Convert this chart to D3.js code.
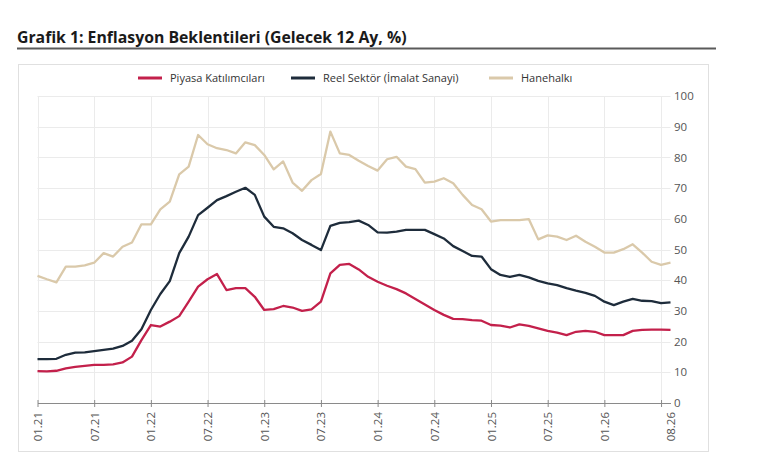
<!DOCTYPE html>
<html>
<head>
<meta charset="utf-8">
<script src="https://cdn.jsdelivr.net/npm/d3@7"></script>
<style>
  body { margin: 0; background: #fff; }
  svg { font-family: "Open Sans", "Noto Sans", sans-serif; }
</style>
</head>
<body>
<svg id="chart" width="770" height="473"></svg>
<script>
const months = [
  "01.21","02.21","03.21","04.21","05.21","06.21","07.21","08.21","09.21","10.21","11.21","12.21",
  "01.22","02.22","03.22","04.22","05.22","06.22","07.22","08.22","09.22","10.22","11.22","12.22",
  "01.23","02.23","03.23","04.23","05.23","06.23","07.23","08.23","09.23","10.23","11.23","12.23",
  "01.24","02.24","03.24","04.24","05.24","06.24","07.24","08.24","09.24","10.24","11.24","12.24",
  "01.25","02.25","03.25","04.25","05.25","06.25","07.25","08.25","09.25","10.25","11.25","12.25",
  "01.26","02.26","03.26","04.26","05.26","06.26","07.26","08.26"
];

const piyasa = [
  10.4, 10.3, 10.5, 11.3, 11.8, 12.1, 12.4, 12.4, 12.6, 13.2,
  15.1, 20.5, 25.4, 24.9, 26.5, 28.3, 33.0, 37.9, 40.3, 42.0,
  36.8, 37.4, 37.4, 34.6, 30.3, 30.6, 31.6, 31.1, 30.0, 30.5,
  33.0, 42.2, 45.0, 45.3, 43.5, 41.1, 39.5, 38.2, 37.1, 35.7,
  33.9, 32.1, 30.3, 28.7, 27.4, 27.3, 27.0, 26.8, 25.4, 25.2,
  24.6, 25.6, 25.1, 24.3, 23.5, 22.9, 22.1, 23.2, 23.5, 23.2,
  22.1, 22.1, 22.1, 23.5, 23.8, 23.9, 23.9, 23.8
];

const reelSektor = [
  14.3, 14.3, 14.4, 15.7, 16.4, 16.5, 16.9, 17.3, 17.7, 18.6,
  20.3, 24.0, 30.3, 35.5, 39.7, 48.8, 54.2, 61.2, 63.6, 66.1,
  67.4, 68.8, 70.1, 67.8, 60.7, 57.4, 56.9, 55.3, 53.1, 51.5,
  49.8, 57.7, 58.7, 58.9, 59.4, 58.0, 55.6, 55.5, 55.8, 56.4,
  56.4, 56.4, 55.0, 53.6, 51.1, 49.5, 47.9, 47.7, 43.6, 41.7,
  41.1, 41.7, 40.9, 39.8, 39.0, 38.4, 37.4, 36.6, 35.9, 34.9,
  33.0, 31.9, 33.0, 33.9, 33.3, 33.2, 32.5, 32.8
];

const hanehalki = [
  41.4, 40.3, 39.3, 44.4, 44.4, 44.8, 45.7, 48.8, 47.7, 50.9,
  52.3, 58.2, 58.2, 63.1, 65.6, 74.5, 77.0, 87.3, 84.3, 83.0,
  82.4, 81.3, 84.9, 84.0, 80.8, 76.1, 78.7, 71.8, 69.1, 72.6,
  74.6, 88.4, 81.3, 80.8, 78.9, 77.2, 75.7, 79.4, 80.2, 77.0,
  76.2, 71.8, 72.1, 73.2, 71.6, 67.8, 64.5, 63.1, 59.1, 59.6,
  59.6, 59.6, 59.9, 53.3, 54.6, 54.2, 53.1, 54.5, 52.5, 50.9,
  49.0, 49.0, 50.1, 51.7, 49.0, 46.0, 45.0, 45.7
];

const tickMonths = ["01.21","07.21","01.22","07.22","01.23","07.23","01.24","07.24","01.25","07.25","01.26","07.26"];
const labelMonths = ["01.21","07.21","01.22","07.22","01.23","07.23","01.24","07.24","01.25","07.25","01.26","08.26"];
const yTicks = [0, 10, 20, 30, 40, 50, 60, 70, 80, 90, 100];

const seriesNames = ["Piyasa Katılımcıları", "Reel Sektör (İmalat Sanayi)", "Hanehalkı"];
const seriesColors = ["#c3204b", "#1e2c3b", "#dac9aa"];
const seriesValues = [piyasa, reelSektor, hanehalki];

const svg = d3.select("#chart");

// title + rule
svg.append("text")
  .attr("x", 17).attr("y", 43)
  .attr("font-size", "15.8px").attr("font-weight", 700)
  .attr("fill", "#1a1a1a")
  .text("Grafik 1: Enflasyon Beklentileri (Gelecek 12 Ay, %)");

svg.append("line")
  .attr("x1", 17).attr("x2", 716)
  .attr("y1", 48.5).attr("y2", 48.5)
  .attr("stroke", "#5a5a5a").attr("stroke-width", 2);

// frame
svg.append("rect")
  .attr("x", 18.5).attr("y", 64.5)
  .attr("width", 690).attr("height", 387)
  .attr("fill", "#fff").attr("stroke", "#e0e0e0");

const x = d3.scalePoint()
  .domain(months)
  .range([37.5, 670.5]);

const y = d3.scaleLinear()
  .domain([0, 100])
  .range([403, 96]);

// grid
svg.append("g")
  .selectAll("line")
  .data(yTicks.filter(d => d > 0))
  .join("line")
  .attr("x1", 37.5).attr("x2", 670.5)
  .attr("y1", d => Math.round(y(d)) + 0.5).attr("y2", d => Math.round(y(d)) + 0.5)
  .attr("stroke", "#ebebeb");

svg.append("g")
  .selectAll("line")
  .data(tickMonths)
  .join("line")
  .attr("x1", d => Math.round(x(d)) + 0.5).attr("x2", d => Math.round(x(d)) + 0.5)
  .attr("y1", y(100)).attr("y2", y(0))
  .attr("stroke", "#ebebeb");

// x axis: tick marks
const xTicks = svg.append("g")
  .attr("transform", `translate(0,${y(0)})`)
  .call(d3.axisBottom(x).tickValues(tickMonths).tickSize(4).tickFormat("").tickSizeOuter(0));
xTicks.select(".domain").attr("stroke", "#8a8a8a");
xTicks.selectAll(".tick line").attr("stroke", "#8a8a8a").attr("y1", -3);

// x axis: labels
const xLabels = svg.append("g")
  .attr("transform", `translate(0,${y(0)})`)
  .call(d3.axisBottom(x).tickValues(labelMonths).tickSize(0));
xLabels.select(".domain").remove();
xLabels.selectAll("text")
  .attr("font-family", "'Open Sans', sans-serif")
  .attr("font-size", "11.5px")
  .attr("fill", "#555")
  .attr("transform", "rotate(-90)")
  .attr("text-anchor", "end")
  .attr("x", -9).attr("y", 0)
  .attr("dy", "0.35em");

// y axis on the right
const yAxis = svg.append("g")
  .attr("transform", "translate(674,0)")
  .call(d3.axisRight(y).tickValues(yTicks).tickSize(0));
yAxis.select(".domain").remove();
yAxis.selectAll("text")
  .attr("font-family", "'Open Sans', sans-serif")
  .attr("font-size", "11.5px")
  .attr("fill", "#555")
  .attr("x", 0);

// lines
const line = d3.line()
  .x((d, i) => x(months[i]))
  .y(d => y(d));

seriesValues.slice().reverse().forEach((vals, k) => {
  const idx = seriesValues.length - 1 - k;
  svg.append("path")
    .datum(vals)
    .attr("fill", "none")
    .attr("stroke", seriesColors[idx])
    .attr("stroke-width", 2.3)
    .attr("stroke-linejoin", "round")
    .attr("d", line);
});

// legend
const legendX = [138, 291, 489];
const legend = svg.append("g");
seriesNames.forEach((name, i) => {
  legend.append("line")
    .attr("x1", legendX[i]).attr("x2", legendX[i] + 24)
    .attr("y1", 78).attr("y2", 78)
    .attr("stroke", seriesColors[i]).attr("stroke-width", 3);
  legend.append("text")
    .attr("x", legendX[i] + 32).attr("y", 78)
    .attr("dy", "0.35em")
    .attr("font-size", "11px")
    .attr("fill", "#333")
    .text(name);
});
</script>
</body>
</html>
